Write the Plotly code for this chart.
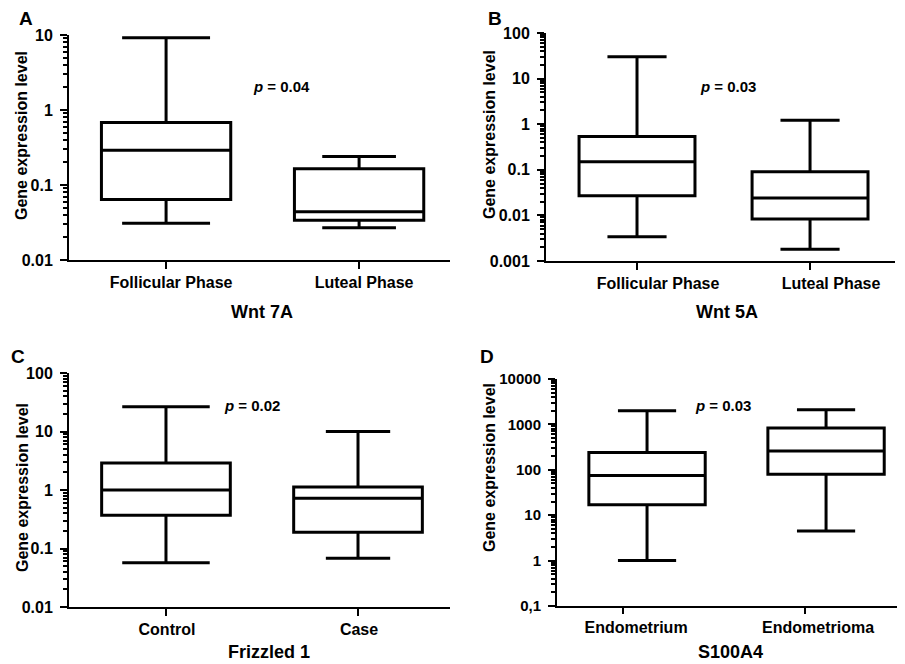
import plotly.graph_objects as go

# ---------------- data ----------------
A_categories = ["Follicular Phase", "Luteal Phase"]
A_min = [0.031, 0.027]
A_q1 = [0.064, 0.034]
A_median = [0.29, 0.044]
A_q3 = [0.68, 0.165]
A_max = [9.2, 0.24]
A_tickvals = [0.01, 0.1, 1, 10]
A_ticktext = ["0.01", "0.1", "1", "10"]

B_categories = ["Follicular Phase", "Luteal Phase"]
B_min = [0.0034, 0.0018]
B_q1 = [0.027, 0.0083]
B_median = [0.15, 0.024]
B_q3 = [0.54, 0.091]
B_max = [30, 1.22]
B_tickvals = [0.001, 0.01, 0.1, 1, 10, 100]
B_ticktext = ["0.001", "0.01", "0.1", "1", "10", "100"]

C_categories = ["Control", "Case"]
C_min = [0.057, 0.068]
C_q1 = [0.37, 0.19]
C_median = [1.0, 0.72]
C_q3 = [2.9, 1.12]
C_max = [26.5, 10]
C_tickvals = [0.01, 0.1, 1, 10, 100]
C_ticktext = ["0.01", "0.1", "1", "10", "100"]

D_categories = ["Endometrium", "Endometrioma"]
D_min = [1.0, 4.5]
D_q1 = [17, 80]
D_median = [75, 260]
D_q3 = [240, 830]
D_max = [1990, 2100]
D_tickvals = [0.1, 1, 10, 100, 1000, 10000]
D_ticktext = ["0,1", "1", "10", "100", "1000", "10000"]

panel_letters = ["A", "B", "C", "D"]
gene_titles = ["Wnt 7A", "Wnt 5A", "Frizzled 1", "S100A4"]
p_texts = ["0.04", "0.03", "0.02", "0.03"]
y_title = "Gene expression level"

# ---------------- figure ----------------
W, H = 905, 664
OFF = 8  # page body margin offset of the rendered figure
FONT = "Liberation Sans, Arial, sans-serif"


def px_x(v):
    return (v - OFF) / W


def px_y(v):
    return 1 - (v - OFF) / H


def minor_vals(tickvals):
    out = []
    for d in tickvals[:-1]:
        for k in range(2, 10):
            out.append(d * k)
    return out


fig = go.Figure()

panels = [
    dict(cats=A_categories, mn=A_min, q1=A_q1, md=A_median, q3=A_q3, mx=A_max,
         xa="x", ya="y", width=0.67, whisk=[0.68, 0.57]),
    dict(cats=B_categories, mn=B_min, q1=B_q1, md=B_median, q3=B_q3, mx=B_max,
         xa="x2", ya="y2", width=0.67, whisk=[0.51, 0.51]),
    dict(cats=C_categories, mn=C_min, q1=C_q1, md=C_median, q3=C_q3, mx=C_max,
         xa="x3", ya="y3", width=0.67, whisk=[0.68, 0.5]),
    dict(cats=D_categories, mn=D_min, q1=D_q1, md=D_median, q3=D_q3, mx=D_max,
         xa="x4", ya="y4", width=0.65, whisk=[0.5, 0.5]),
]

for p in panels:
    for i, c in enumerate(p["cats"]):
        fig.add_trace(go.Box(
            x=[c], q1=[p["q1"][i]], median=[p["md"][i]], q3=[p["q3"][i]],
            lowerfence=[p["mn"][i]], upperfence=[p["mx"][i]],
            width=p["width"], whiskerwidth=p["whisk"][i],
            line=dict(color="black", width=3), fillcolor="white",
            boxpoints=False, showlegend=False, hoverinfo="skip",
            xaxis=p["xa"], yaxis=p["ya"],
        ))

# invisible helper trace so the D tick axis (x5) gets drawn
fig.add_trace(go.Scatter(x=[0, 1], y=[D_median[0], D_median[1]], mode="markers",
                         marker=dict(opacity=0, size=1), showlegend=False,
                         hoverinfo="skip", xaxis="x5", yaxis="y4"))

tickfont = dict(family=FONT, size=16, color="black", weight="bold")


def yaxis(domain, rng, tv, tt, anchor, size=16):
    return dict(
        type="log", domain=domain, range=rng, anchor=anchor, automargin=False,
        tickmode="array", tickvals=tv, ticktext=tt,
        ticks="outside", ticklen=7, tickwidth=2, tickcolor="black",
        ticklabelstandoff=4,
        showline=True, linewidth=2, linecolor="black",
        showgrid=False, zeroline=False,
        tickfont=dict(family=FONT, size=size, color="black", weight="bold"),
        minor=dict(tickmode="array", tickvals=minor_vals(tv), ticks="outside",
                   ticklen=4, tickwidth=1.5, tickcolor="black", showgrid=False),
    )


def xaxis(domain, rng, anchor, shift=0, ticks=True):
    return dict(
        type="category", domain=domain, range=rng, anchor=anchor, automargin=False,
        ticks="outside" if ticks else "", ticklen=7, tickwidth=2, tickcolor="black",
        showline=True, linewidth=2, linecolor="black",
        showgrid=False, zeroline=False, showticklabels=ticks,
        tickfont=tickfont, ticklabelshift=shift,
    )


fig.update_layout(
    width=W, height=H,
    margin=dict(l=0, r=0, t=0, b=0),
    paper_bgcolor="white", plot_bgcolor="white",
    boxmode="overlay",
    xaxis=xaxis([px_x(69), px_x(450)], [-0.503, 1.471], "y", shift=5),
    yaxis=yaxis([px_y(260), px_y(35)], [-2, 1], A_tickvals, A_ticktext, "x"),
    xaxis2=xaxis([px_x(546), px_x(895)], [-0.526, 1.491], "y2", shift=21),
    yaxis2=yaxis([px_y(261), px_y(33)], [-3, 2], B_tickvals, B_ticktext, "x2"),
    xaxis3=xaxis([px_x(69), px_x(450)], [-0.505, 1.479], "y3", shift=1),
    yaxis3=yaxis([px_y(607), px_y(373)], [-2, 2], C_tickvals, C_ticktext, "x3"),
    xaxis4=xaxis([px_x(557), px_x(905)], [-0.503, 1.441], "y4", ticks=False),
    yaxis4=yaxis([px_y(606), px_y(379)], [-1, 4], D_tickvals, D_ticktext, "x4", size=15),
    xaxis5=dict(
        overlaying="x4", anchor="y4", type="linear", range=[-0.363, 1.549],
        automargin=False,
        tickmode="array", tickvals=[0, 1], ticktext=D_categories,
        ticks="outside", ticklen=7, tickwidth=2, tickcolor="black",
        showline=False, showgrid=False, zeroline=False,
        tickfont=tickfont, ticklabelshift=13,
    ),
)

annotations = []
# panel letters
for letter, (x, y) in zip(panel_letters, [(26, 19), (495, 19), (18, 356), (487, 356)]):
    annotations.append(dict(text=letter, x=px_x(x), y=px_y(y), xref="paper", yref="paper",
                            showarrow=False, xanchor="center", yanchor="middle",
                            font=dict(family=FONT, size=19, color="black", weight="bold")))
# gene titles
for t, (x, y) in zip(gene_titles, [(262, 312), (727, 312), (269, 652), (730, 652)]):
    annotations.append(dict(text=t, x=px_x(x), y=px_y(y), xref="paper", yref="paper",
                            showarrow=False, xanchor="center", yanchor="middle",
                            font=dict(family=FONT, size=18, color="black", weight="bold")))
# p values
for t, (x, y) in zip(p_texts, [(281, 86), (728, 86), (252, 405), (723, 405)]):
    annotations.append(dict(text="<i>p</i> = " + t, x=px_x(x), y=px_y(y), xref="paper", yref="paper",
                            showarrow=False, xanchor="center", yanchor="middle",
                            font=dict(family=FONT, size=15, color="black", weight="bold")))
# y titles
for (x, y) in [(22, 136), (490, 135), (22, 488), (490, 468)]:
    annotations.append(dict(text=y_title, x=px_x(x), y=px_y(y), xref="paper", yref="paper",
                            showarrow=False, xanchor="center", yanchor="middle", textangle=-90,
                            font=dict(family=FONT, size=16, color="black", weight="bold")))

fig.update_layout(annotations=annotations)

fig.write_html("out.html")
